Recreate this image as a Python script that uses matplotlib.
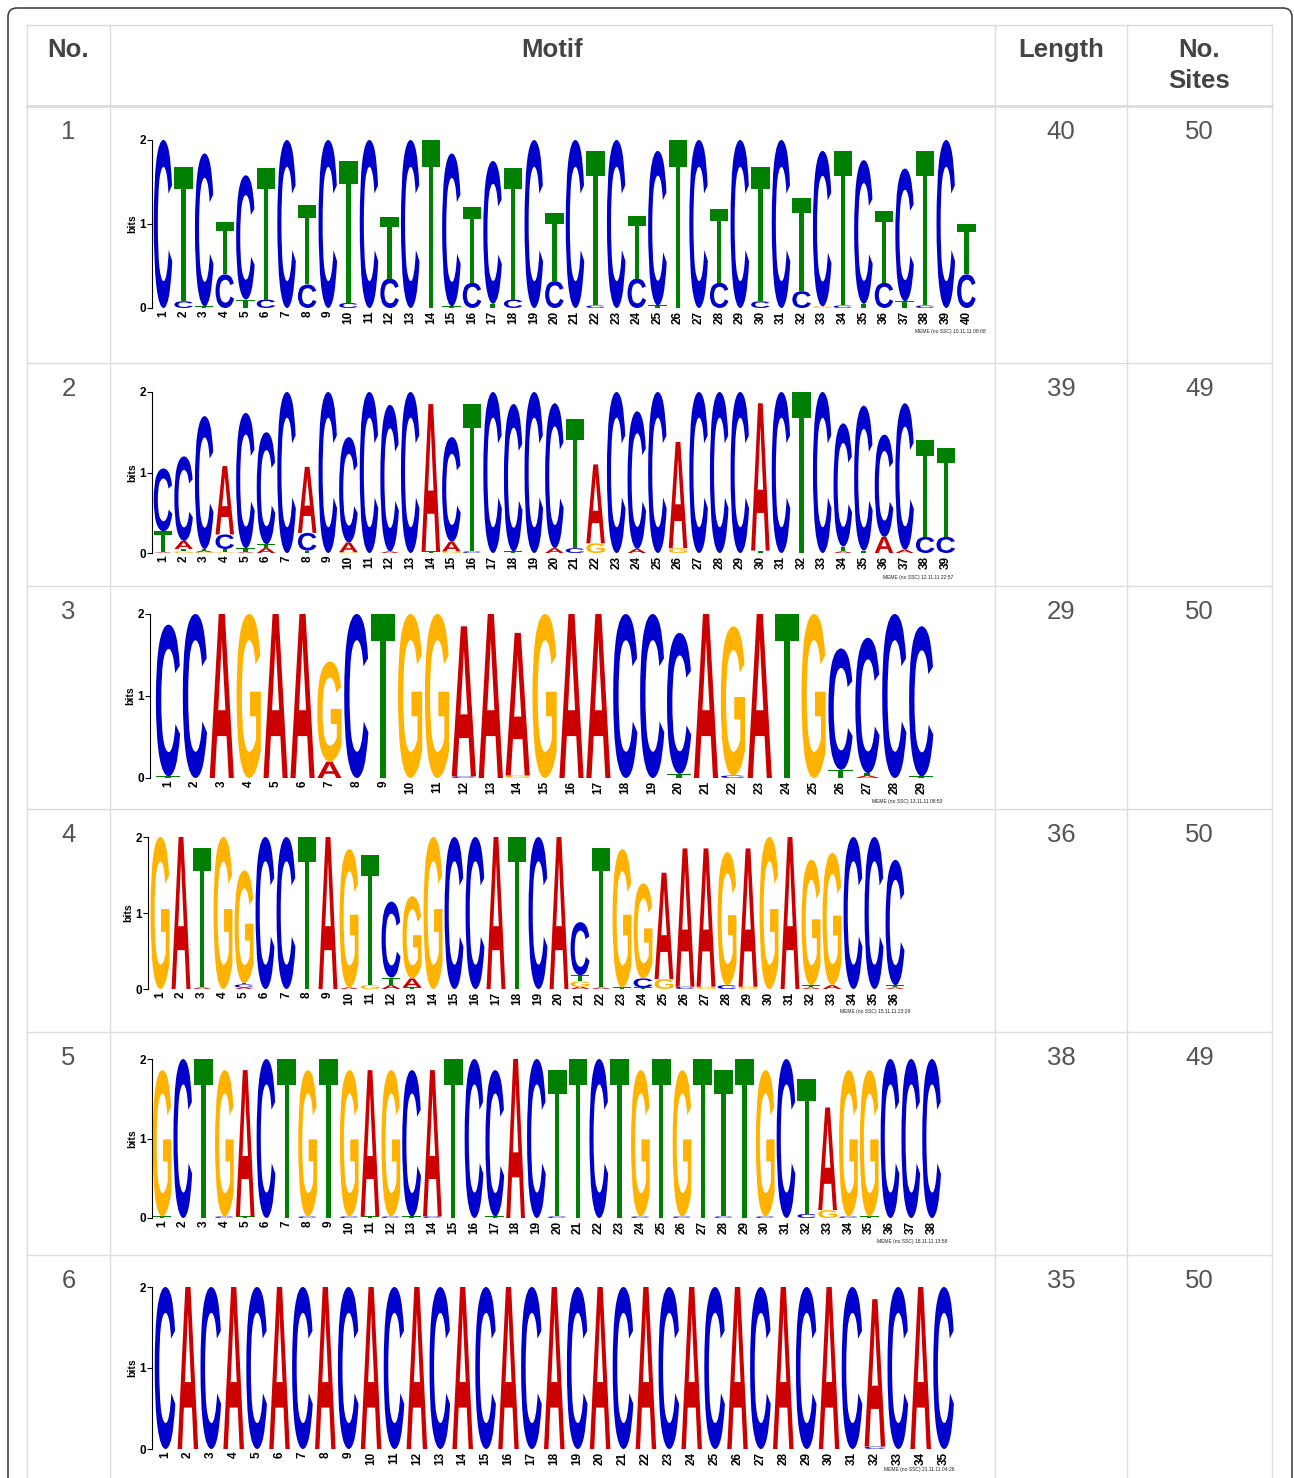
import matplotlib
matplotlib.use("Agg")
import matplotlib.pyplot as plt
from matplotlib.textpath import TextPath
from matplotlib.patches import PathPatch, FancyBboxPatch
from matplotlib.font_manager import FontProperties
from matplotlib.transforms import Affine2D

plt.rcParams['font.family'] = ['Liberation Sans', 'DejaVu Sans']

W, H = 1294, 1478

# table values
motif_no = [1, 2, 3, 4, 5, 6]
lengths = [40, 39, 29, 36, 38, 35]
sites = [50, 49, 50, 50, 49, 50]
stamps = ["MEME (no SSC) 10.11.11 08:08", "MEME (no SSC) 12.11.11 22:57",
          "MEME (no SSC) 13.11.11 08:53", "MEME (no SSC) 15.11.11 23:29",
          "MEME (no SSC) 18.11.11 13:58", "MEME (no SSC) 21.11.11 04:26"]

# logo columns, letters stacked bottom -> top, letter + height in bits
m1 = ["C2", "C.08 T1.6", "T.02 C1.82", "C.4 T.62", "T.1 C1.48", "C.1 T1.57", "C2",
      "C.28 T.95", "C2", "C.06 T1.69", "C2", "C.35 T.73", "C2", "T2", "T.02 C1.82",
      "C.3 T.9", "T.05 C1.7", "C.1 T1.57", "C2", "C.32 T.81",
      "C2", "C.03 T1.84", "C2", "C.35 T.75", "T.03 C1.84", "T2", "C2", "C.3 T.88",
      "C2", "C.08 T1.6", "C2", "C.2 T1.11", "G.02 C1.85", "C.03 T1.84", "T.05 C1.71",
      "C.3 T.86", "T.08 C1.58", "C.03 T1.84", "C2", "C.4 T.6"]
m2 = ["A.01 T.26 C.78", "G.02 T.03 A.1 C1.05", "G.01 A.02 T.02 C1.65",
      "G.01 T.04 C.18 A.85", "A.01 T.05 C1.68", "A.06 T.05 C1.39", "C2",
      "T.03 C.22 A.82", "C2", "G.01 A.12 C1.31", "C2", "A.02 C1.82", "C2",
      "T.02 A1.83", "G.02 A.12 C1.3", "C.02 T1.83", "C2", "T.02 C1.83", "C2",
      "A.06 C1.8", "C.06 T1.6", "G.12 A.98", "C2", "A.05 C1.71", "C2", "G.06 A1.32",
      "C2", "C2", "C2", "T.03 A1.83", "C2", "T2", "C2", "A.02 T.06 C1.53",
      "T.03 C1.8", "A.2 C1.27", "A.04 C1.82", "C.2 T1.2", "C.2 T1.1"]
m3 = ["T.02 C1.85", "C2", "A2", "G2", "A2", "A2", "A.2 G1.22", "C2", "T2", "G2",
      "G2", "C.02 A1.83", "A2", "G.03 A1.74", "G2", "A2", "A2", "C2", "C2",
      "T.05 C1.72", "A2", "C.03 G1.82", "A2", "T2", "G2", "T.1 C1.48",
      "A.03 T.03 C1.65", "C2", "T.02 C1.83"]
m4 = ["G2", "A2", "A.02 T1.83", "G2", "A.02 C.04 T.02 G1.48", "C2", "C2", "T2", "A2",
      "A.02 G1.82", "G.05 T1.71", "A.05 T.1 C1.0", "T.02 A.12 G1.08", "G2", "C2", "C2",
      "A2", "T2", "C2", "A2", "A.03 G.07 T.08 C.7", "A.02 T1.83", "T.02 G1.82",
      "T.02 C.12 G1.25", "G.13 A1.4", "C.03 A1.82", "G.03 A1.82", "C.05 G1.75",
      "G.03 A1.82", "G2", "A2", "A.02 T.03 G1.65", "A.05 G1.74", "C2", "C2",
      "A.02 T.03 C1.65"]
m5 = ["T.02 G1.84", "C2", "T2", "C.02 G1.84", "T.02 A1.84", "C2", "T2", "C.02 G1.84",
      "T2", "C.02 G1.84", "T.02 A1.84", "C.02 G1.84", "T.02 C1.84", "C.02 A1.84", "T2",
      "C2", "T.02 C1.84", "A2", "C2",
      "C.02 T1.84", "T2", "C2", "T2", "C.02 G1.84", "T2", "C.02 G1.84", "T2",
      "C.02 T1.84", "T2", "C.02 G1.84", "C2", "C.05 T1.7", "G.1 A1.29", "C.02 G1.84",
      "T.02 G1.84", "C2", "C2", "C2"]
m6 = ["C2", "A2", "C2", "A2", "C2", "A2", "C2", "A2", "C2", "A2", "C2", "A2", "C2",
      "A2", "C2", "A2", "C2", "A2", "C2", "A2", "C2", "A2", "C2", "A2", "C2", "A2",
      "C2", "A2", "C2", "A2", "C2", "C.03 A1.82", "C2", "A2", "C2"]
motifs = [m1, m2, m3, m4, m5, m6]

# pixel layout of each logo: y-axis x, centre of column 1, column width, y of 0 bits, y of 2 bits
logo_px = [(152, 163, 20.6, 308, 140), (152, 163, 20.6, 553, 392),
           (150, 168, 26.9, 778, 614), (148, 160, 21.0, 989, 837),
           (152, 162, 20.8, 1218, 1059), (152, 165, 22.9, 1449, 1287)]
stamp_px = [(986, 332), (953, 577), (942, 801), (910, 1011), (947, 1242), (955, 1470)]

row_lines = [25, 106, 363, 586, 809, 1032, 1255]
col_lines = [27, 110, 995, 1127, 1272]

colors = {"A": "#cc0000", "C": "#0000cc", "G": "#ffb300", "T": "#008000"}
glyph_font = FontProperties(family="Liberation Sans", weight="bold")
glyphs = {ch: TextPath((0, 0), ch, size=100, prop=glyph_font) for ch in "ACGT"}


def draw_letter(ax, ch, x, y, h, width=0.9):
    path = glyphs[ch]
    ext = path.get_extents()
    tr = (Affine2D().translate(-ext.x0, -ext.y0)
          .scale(width / ext.width, h / ext.height)
          .translate(x - width / 2, y))
    ax.add_patch(PathPatch(tr.transform_path(path), fc=colors[ch], ec="none", lw=0))


fig = plt.figure(figsize=(W / 100, H / 100), dpi=100)
bg = fig.add_axes([0, 0, 1, 1])
bg.set_xlim(0, W)
bg.set_ylim(H, 0)
bg.axis("off")

# frame and table grid
bg.add_patch(FancyBboxPatch((8, 8), 1284, 1520, boxstyle="round,pad=0,rounding_size=9",
                            fc="none", ec="#444444", lw=1.2))
for i, y in enumerate(row_lines):
    bg.plot([col_lines[0], col_lines[-1]], [y, y], color="#dddddd", lw=2 if i == 1 else 1)
for x in col_lines:
    bg.plot([x, x], [row_lines[0], H], color="#dddddd", lw=1)

head_kw = dict(fontsize=18.5, fontweight="bold", color="#444444", ha="center", va="center")
bg.text(68.5, 50, "No.", **head_kw)
bg.text(552, 50, "Motif", **head_kw)
bg.text(1061, 50, "Length", **head_kw)
bg.text(1199.5, 50, "No.", **head_kw)
bg.text(1199.5, 81, "Sites", **head_kw)

body_kw = dict(fontsize=18.5, color="#555555", ha="center", va="center")
for k in range(6):
    yc = row_lines[k + 1] + 26
    bg.text(68.5, yc, str(motif_no[k]), **body_kw)
    bg.text(1061, yc, str(lengths[k]), **body_kw)
    bg.text(1199.5, yc, str(sites[k]), **body_kw)
    bg.text(stamp_px[k][0], stamp_px[k][1], stamps[k], fontsize=3.6, color="#222222",
            ha="right", va="center")

for motif, (ax_x, x1, w, y0, y2) in zip(motifs, logo_px):
    n = len(motif)
    xleft = 1 - (x1 - ax_x) / w
    xright = n + 0.55
    ax = fig.add_axes([ax_x / W, 1 - y0 / H, (xright - xleft) * w / W, (y0 - y2) / H])
    ax.set_xlim(xleft, xright)
    ax.set_ylim(0, 2)
    ax.patch.set_alpha(0)
    for side in ["top", "right", "bottom"]:
        ax.spines[side].set_visible(False)
    ax.spines["left"].set_linewidth(0.8)
    for pos, col in enumerate(motif, start=1):
        base = 0.0
        for tok in col.split():
            h = float(tok[1:])
            draw_letter(ax, tok[0], pos, base, h)
            base += h
    ax.set_xticks(range(1, n + 1))
    ax.set_xticklabels([str(i) for i in range(1, n + 1)], rotation=90, fontsize=8.5,
                       fontweight="bold")
    ax.tick_params(axis="x", length=0, pad=2)
    ax.set_yticks([0, 1, 2])
    ax.set_yticklabels(["0", "1", "2"], fontsize=8.5, fontweight="bold")
    ax.tick_params(axis="y", length=3.5, width=0.8, pad=1)
    ax.set_ylabel("bits", fontsize=7.5, fontweight="bold", labelpad=1)

fig.savefig("out.png", dpi=100)
